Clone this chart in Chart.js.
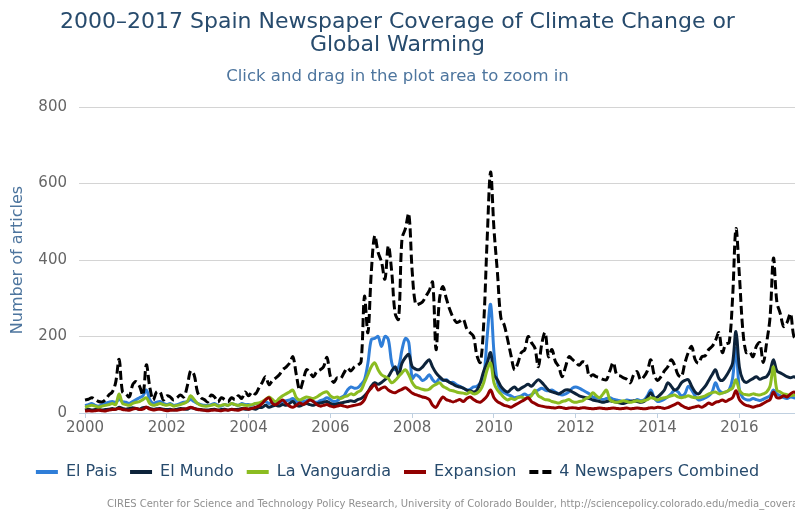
<!DOCTYPE html>
<html>
<head>
<meta charset="utf-8">
<script src="https://cdn.jsdelivr.net/npm/chart.js@4.4.1/dist/chart.umd.min.js"></script>
<style>
  html, body { margin: 0; padding: 0; background: #fff; }
  #wrap { width: 795px; height: 510px; }
</style>
</head>
<body>
<div id="wrap"><canvas id="chart" width="795" height="510"></canvas></div>
<script>
// monthly counts, Jan 2000 .. Jun 2017 (one row per year)
const startYear = 2000;

const elPais = [
  20, 22, 25, 20, 18, 22, 25, 28, 30, 28, 35, 30,
  28, 25, 30, 35, 40, 45, 60, 35, 25, 28, 30, 25,
  22, 25, 20, 22, 25, 28, 30, 35, 30, 25, 22, 20,
  20, 22, 25, 20, 18, 22, 20, 25, 22, 20, 25, 22,
  22, 20, 25, 22, 28, 30, 25, 28, 30, 25, 30, 32,
  34, 38, 30, 28, 30, 32, 35, 30, 28, 32, 35, 40,
  35, 30, 32, 40, 45, 60, 68, 65, 66, 75, 87, 130,
  192, 195, 200, 174, 200, 192, 131, 113, 120, 165, 195, 184,
  90, 100, 95, 85, 90, 100, 87, 80, 90, 85, 87, 80,
  80, 74, 70, 65, 60, 62, 68, 70, 79, 95, 200, 284,
  158, 80, 60, 53, 48, 45, 40, 42, 45, 50, 45, 48,
  55, 60, 65, 60, 58, 60, 55, 50, 47, 50, 55, 65,
  68, 65, 60, 55, 50, 42, 40, 38, 35, 38, 40, 36,
  34, 32, 30, 34, 32, 30, 35, 32, 34, 45, 60, 40,
  30, 32, 36, 42, 50, 60, 55, 45, 50, 70, 60, 45,
  34, 36, 40, 45, 55, 79, 60, 53, 55, 60, 90, 170,
  60, 40, 35, 34, 38, 35, 33, 36, 40, 45, 60, 50,
  45, 40, 38, 42, 40, 38
];

const elMundo = [
  8, 10, 8, 9, 10, 8, 9, 10, 12, 10, 15, 12,
  10, 12, 14, 12, 10, 14, 15, 12, 10, 11, 12, 10,
  9, 10, 8, 10, 12, 11, 10, 14, 12, 10, 9, 8,
  8, 9, 10, 8, 9, 10, 8, 10, 9, 10, 12, 10,
  10, 12, 10, 14, 15, 20, 15, 18, 20, 18, 22, 20,
  25, 30, 20, 18, 22, 25, 22, 20, 24, 26, 28, 30,
  25, 22, 24, 26, 28, 30, 32, 30, 35, 38, 45, 55,
  70, 79, 75, 80, 87, 95, 110, 121, 100, 130, 145, 153,
  121, 115, 113, 120, 131, 139, 120, 105, 95, 87, 85, 80,
  75, 70, 68, 65, 60, 58, 55, 60, 80, 110, 131, 158,
  100, 87, 70, 60, 55, 62, 68, 60, 65, 70, 75, 70,
  79, 87, 80, 70, 60, 55, 53, 50, 55, 60, 60, 55,
  50, 45, 42, 40, 38, 34, 32, 30, 28, 30, 32, 30,
  28, 26, 25, 28, 30, 32, 30, 28, 30, 40, 53, 40,
  42, 50, 60, 79, 70, 60, 65, 79, 85, 87, 70, 55,
  50, 60, 70, 85, 100, 113, 90, 85, 95, 110, 130, 213,
  120, 87, 80, 85, 90, 95, 88, 92, 95, 110, 139, 110,
  105, 100, 95, 92, 95, 90
];

const laVanguardia = [
  15, 18, 20, 18, 15, 18, 20, 22, 25, 22, 50, 25,
  22, 20, 25, 28, 30, 35, 40, 25, 20, 22, 25, 22,
  20, 22, 18, 20, 22, 25, 30, 45, 35, 25, 20, 18,
  18, 20, 22, 18, 20, 22, 20, 25, 22, 20, 22, 20,
  20, 22, 25, 26, 30, 35, 42, 35, 30, 38, 45, 50,
  55, 60, 40, 34, 38, 42, 40, 38, 42, 48, 53, 55,
  45, 40, 42, 38, 42, 45, 50, 48, 55, 60, 80, 100,
  121, 131, 113, 100, 95, 90, 79, 85, 95, 105, 113, 100,
  80, 68, 65, 62, 60, 62, 70, 75, 79, 70, 65, 60,
  58, 55, 53, 52, 50, 55, 50, 52, 60, 80, 113, 131,
  79, 60, 50, 40, 34, 38, 35, 40, 42, 38, 40, 45,
  60, 45, 40, 35, 34, 30, 28, 26, 30, 32, 35, 30,
  28, 30, 32, 38, 42, 53, 45, 40, 50, 60, 35, 30,
  28, 30, 32, 30, 28, 30, 32, 30, 32, 35, 40, 38,
  34, 38, 40, 42, 45, 47, 42, 40, 42, 45, 42, 40,
  40, 42, 45, 50, 53, 55, 50, 52, 55, 60, 65, 87,
  60, 50, 48, 47, 50, 48, 47, 50, 55, 70, 121, 60,
  55, 50, 48, 45, 47, 45
];

const expansion = [
  5, 6, 5, 6, 7, 6, 5, 8, 9, 10, 12, 9,
  8, 7, 10, 12, 9, 10, 15, 10, 8, 9, 10, 8,
  6, 7, 8, 7, 9, 10, 12, 15, 12, 9, 8, 7,
  6, 7, 8, 7, 6, 8, 7, 9, 8, 7, 10, 12,
  10, 12, 15, 18, 25, 35, 40, 25, 22, 28, 34, 25,
  18, 15, 20, 26, 22, 28, 34, 30, 22, 18, 20, 22,
  18, 16, 18, 20, 18, 16, 18, 20, 22, 25, 35, 55,
  65, 74, 60, 65, 68, 60, 55, 53, 58, 62, 66, 60,
  52, 48, 45, 42, 40, 35, 20, 15, 30, 42, 35, 32,
  29, 32, 35, 30, 38, 42, 35, 30, 28, 35, 45, 60,
  40, 30, 25, 20, 18, 15, 20, 25, 30, 35, 40, 30,
  25, 20, 18, 16, 15, 14, 13, 15, 14, 12, 13, 14,
  13, 12, 14, 13, 12, 11, 12, 13, 12, 11, 12, 13,
  12, 11, 12, 13, 11, 12, 13, 12, 11, 12, 14, 13,
  15, 14, 12, 14, 18, 22, 26, 20, 15, 12, 14, 16,
  18, 15, 20, 26, 22, 28, 30, 34, 30, 35, 40, 58,
  35, 25, 20, 18, 15, 18, 20, 25, 30, 35, 55, 40,
  40, 45, 42, 50, 55, 50
];

const combined = [
  34, 36, 40, 35, 30, 29, 35, 47, 55, 80, 140, 55,
  50, 42, 74, 82, 70, 47, 126, 68, 34, 55, 55, 34,
  45, 42, 34, 40, 47, 42, 70, 110, 100, 55, 40, 35,
  29, 47, 42, 29, 40, 35, 30, 40, 35, 45, 38, 55,
  45, 55, 50, 65, 80, 95, 74, 85, 92, 100, 113, 120,
  130, 147, 100, 60, 85, 113, 105, 95, 108, 113, 121, 145,
  95, 80, 92, 90, 105, 118, 110, 120, 125, 134, 305, 210,
  368, 463, 420, 395, 350, 437, 368, 260, 245, 455, 482, 521,
  370, 284, 285, 290, 305, 320, 342, 166, 297, 331, 300, 271,
  250, 237, 240, 245, 220, 210, 200, 150, 132, 237, 455, 630,
  480, 368, 250, 230, 192, 150, 113, 130, 158, 165, 200, 184,
  170, 121, 180, 210, 147, 166, 135, 121, 95, 121, 147, 140,
  132, 125, 134, 130, 95, 100, 95, 92, 88, 87, 110, 132,
  100, 97, 92, 88, 79, 100, 108, 87, 95, 110, 139, 100,
  85, 95, 110, 121, 139, 125, 100, 95, 130, 158, 174, 140,
  130, 147, 150, 166, 174, 190, 210, 158, 180, 184, 300, 482,
  360, 218, 158, 160, 147, 175, 184, 132, 184, 250, 405, 290,
  260, 226, 237, 260, 200, 195
];

const yearTicks = [2000, 2002, 2004, 2006, 2008, 2010, 2012, 2014, 2016];
const valueTicks = [0, 200, 400, 600, 800];

// month positions as decimal years
let months = [];
for (let i = 0; i < combined.length; i++) {
    months.push(startYear + i / 12);
}

const FONT = '"DejaVu Sans", sans-serif';
const creditText = 'CIRES Center for Science and Technology Policy Research, University of Colorado Boulder, http://sciencepolicy.colorado.edu/media_coverage';

const credits = {
    id: 'credits',
    afterDraw(chart) {
        const ctx = chart.ctx;
        ctx.save();
        ctx.font = '10px ' + FONT;
        ctx.fillStyle = '#909090';
        ctx.textBaseline = 'middle';
        ctx.fillText(creditText, 107, 504);
        ctx.restore();
    }
};

function legendItems(chart) {
    let items = Chart.defaults.plugins.legend.labels.generateLabels(chart);
    items.forEach(function (it) {
        let ds = chart.data.datasets[it.datasetIndex];
        it.lineWidth = 4;
        it.lineDash = ds.borderDash || [];
        it.strokeStyle = ds.borderColor;
    });
    return items;
}

const ctx = document.getElementById('chart').getContext('2d');
const chart = new Chart(ctx, {
    type: 'line',
    data: {
        labels: months,
        datasets: [
            { label: 'El Pais', data: elPais, borderColor: '#2f7ed8', backgroundColor: '#2f7ed8', order: 4 },
            { label: 'El Mundo', data: elMundo, borderColor: '#0d233a', backgroundColor: '#0d233a', order: 3 },
            { label: 'La Vanguardia', data: laVanguardia, borderColor: '#8bbc21', backgroundColor: '#8bbc21', order: 2 },
            { label: 'Expansion', data: expansion, borderColor: '#910000', backgroundColor: '#910000', order: 1 },
            { label: '4 Newspapers Combined', data: combined, borderColor: '#000000', backgroundColor: '#000000', borderDash: [9, 4], order: 0 }
        ]
    },
    options: {
        responsive: false,
        animation: false,
        layout: { padding: { top: 0, right: 0, bottom: 20, left: 0 } },
        elements: {
            point: { radius: 0, hoverRadius: 0 },
            line: { tension: 0.35, borderWidth: 3, fill: false }
        },
        scales: {
            x: {
                type: 'linear',
                min: 1999.853,
                max: 2017.36,
                afterBuildTicks: s => { s.ticks = yearTicks.map(v => ({ value: v })); },
                afterFit: s => { s.height = 38; },
                grid: { drawOnChartArea: false, tickLength: 5, tickColor: '#C0D0E0' },
                border: { color: '#C0D0E0', width: 1 },
                ticks: {
                    padding: 1, color: '#666666', autoSkip: false, maxRotation: 0,
                    font: { family: FONT, size: 15 },
                    callback: v => String(v)
                }
            },
            y: {
                min: 0,
                max: 800,
                afterBuildTicks: s => { s.ticks = valueTicks.map(v => ({ value: v })); },
                afterFit: s => { s.width = 79; },
                grid: { color: '#d4d4d4', drawTicks: false },
                border: { display: false },
                ticks: { padding: 12, color: '#666666', font: { family: FONT, size: 15 } },
                title: {
                    display: true, text: 'Number of articles', color: '#4d759e',
                    font: { family: FONT, size: 16 }, padding: { top: 8, bottom: 0 }
                }
            }
        },
        plugins: {
            title: {
                display: true,
                text: ['2000–2017 Spain Newspaper Coverage of Climate Change or', 'Global Warming'],
                color: '#274b6d',
                font: { family: FONT, size: 22, weight: 'normal', lineHeight: 1.05 },
                padding: { top: 10.5, bottom: 0 }
            },
            subtitle: {
                display: true,
                text: 'Click and drag in the plot area to zoom in',
                color: '#4d759e',
                font: { family: FONT, size: 16.5, lineHeight: 1.2 },
                padding: { top: 10.4, bottom: 20.1 }
            },
            legend: {
                position: 'bottom',
                labels: {
                    usePointStyle: true, pointStyle: 'line', pointStyleWidth: 22, boxHeight: 16,
                    color: '#274b6d', padding: 13,
                    font: { family: FONT, size: 16 },
                    generateLabels: legendItems,
                    sort: (a, b) => a.datasetIndex - b.datasetIndex
                }
            },
            tooltip: { enabled: false }
        }
    },
    plugins: [credits]
});
</script>
</body>
</html>
